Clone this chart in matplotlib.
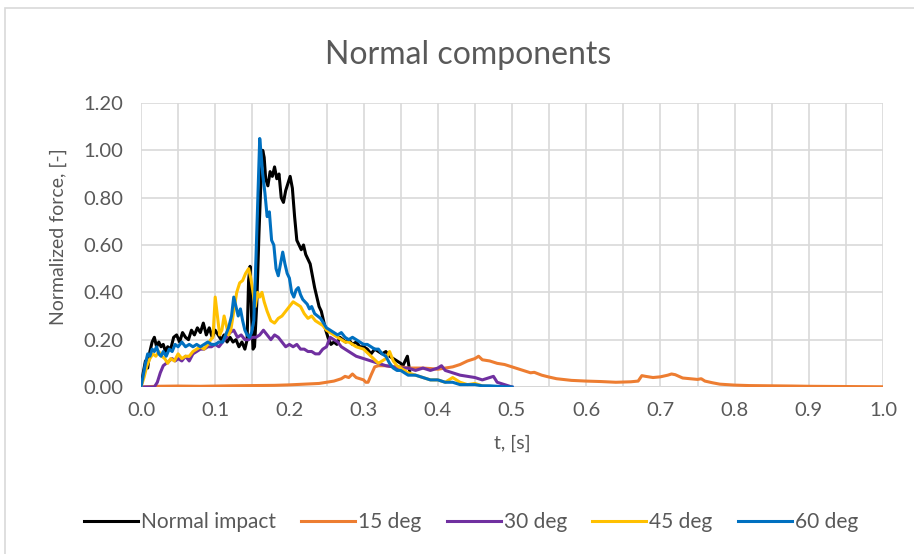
import matplotlib
matplotlib.use('Agg')
import matplotlib.pyplot as plt
from matplotlib.patches import Rectangle
import numpy as np

plt.rcParams['font.family'] = ['Lato', 'DejaVu Sans']

# ---- data ----
t_normal = [0.000, 0.003, 0.006, 0.009, 0.012, 0.015, 0.018, 0.021, 0.024, 0.027,
            0.030, 0.033, 0.036, 0.040, 0.044, 0.048, 0.052, 0.056, 0.060, 0.064,
            0.068, 0.072, 0.076, 0.080, 0.084, 0.088, 0.092, 0.096, 0.100, 0.104,
            0.108, 0.112, 0.116, 0.120, 0.124, 0.128, 0.132, 0.136, 0.140, 0.143,
            0.145, 0.147, 0.149, 0.151, 0.153, 0.156, 0.159, 0.162, 0.164, 0.166,
            0.168, 0.171, 0.174, 0.177, 0.180, 0.183, 0.186, 0.189, 0.192, 0.195,
            0.198, 0.201, 0.204, 0.207, 0.210, 0.213, 0.216, 0.219, 0.222, 0.225,
            0.228, 0.231, 0.234, 0.237, 0.240, 0.243, 0.246, 0.249, 0.252, 0.256,
            0.260, 0.264, 0.268, 0.272, 0.276, 0.280, 0.285, 0.290, 0.295, 0.300,
            0.305, 0.310, 0.315, 0.320, 0.325, 0.330, 0.335, 0.340, 0.345, 0.350,
            0.353, 0.356, 0.359, 0.362]
f_normal = [0.00, 0.06, 0.11, 0.08, 0.15, 0.19, 0.21, 0.17, 0.19, 0.17,
            0.18, 0.15, 0.17, 0.16, 0.21, 0.22, 0.19, 0.23, 0.21, 0.20,
            0.24, 0.22, 0.25, 0.23, 0.27, 0.22, 0.25, 0.21, 0.24, 0.22,
            0.20, 0.22, 0.19, 0.21, 0.19, 0.20, 0.17, 0.19, 0.16, 0.20,
            0.45, 0.51, 0.30, 0.16, 0.17, 0.35, 0.65, 0.90, 1.00, 0.97,
            0.88, 0.85, 0.91, 0.89, 0.93, 0.88, 0.90, 0.80, 0.78, 0.83,
            0.86, 0.89, 0.84, 0.72, 0.62, 0.60, 0.58, 0.60, 0.56, 0.54,
            0.52, 0.47, 0.42, 0.38, 0.34, 0.32, 0.28, 0.24, 0.21, 0.18,
            0.19, 0.18, 0.21, 0.20, 0.19, 0.20, 0.18, 0.19, 0.17, 0.17,
            0.16, 0.14, 0.16, 0.15, 0.14, 0.15, 0.13, 0.12, 0.11, 0.10,
            0.09, 0.11, 0.13, 0.07]

t_15 = [0.000, 0.020, 0.050, 0.080, 0.100, 0.120, 0.150, 0.180, 0.200, 0.220,
        0.240, 0.250, 0.260, 0.270, 0.275, 0.280, 0.285, 0.290, 0.295, 0.300,
        0.303, 0.306, 0.310, 0.315, 0.320, 0.330, 0.340, 0.350, 0.360, 0.370,
        0.380, 0.390, 0.400, 0.410, 0.420, 0.430, 0.440, 0.450, 0.455, 0.460,
        0.470, 0.480, 0.490, 0.500, 0.510, 0.520, 0.525, 0.530, 0.540, 0.550,
        0.560, 0.580, 0.600, 0.620, 0.640, 0.660, 0.670, 0.675, 0.680, 0.690,
        0.700, 0.710, 0.715, 0.720, 0.730, 0.740, 0.750, 0.755, 0.760, 0.770,
        0.780, 0.800, 0.820, 0.850, 0.880, 0.900, 0.950, 1.000]
f_15 = [0.000, 0.003, 0.004, 0.003, 0.004, 0.005, 0.006, 0.007, 0.009, 0.012,
        0.015, 0.020, 0.025, 0.035, 0.045, 0.040, 0.055, 0.040, 0.035, 0.030,
        0.020, 0.020, 0.050, 0.085, 0.090, 0.090, 0.085, 0.085, 0.080, 0.080,
        0.080, 0.078, 0.075, 0.080, 0.085, 0.095, 0.110, 0.120, 0.130, 0.115,
        0.110, 0.100, 0.095, 0.085, 0.075, 0.065, 0.060, 0.062, 0.050, 0.042,
        0.035, 0.028, 0.025, 0.023, 0.020, 0.022, 0.025, 0.048, 0.045, 0.040,
        0.043, 0.050, 0.055, 0.052, 0.038, 0.035, 0.032, 0.035, 0.025, 0.018,
        0.012, 0.008, 0.006, 0.005, 0.004, 0.003, 0.002, 0.001]

t_30 = [0.000, 0.010, 0.018, 0.022, 0.026, 0.030, 0.034, 0.038, 0.042, 0.046,
        0.050, 0.055, 0.060, 0.065, 0.070, 0.075, 0.080, 0.085, 0.090, 0.095,
        0.100, 0.105, 0.110, 0.115, 0.120, 0.125, 0.130, 0.135, 0.140, 0.145,
        0.150, 0.155, 0.160, 0.165, 0.170, 0.175, 0.180, 0.185, 0.190, 0.195,
        0.200, 0.205, 0.210, 0.215, 0.220, 0.225, 0.230, 0.235, 0.240, 0.245,
        0.250, 0.255, 0.260, 0.265, 0.270, 0.275, 0.280, 0.290, 0.300, 0.310,
        0.320, 0.330, 0.340, 0.350, 0.360, 0.370, 0.380, 0.390, 0.400, 0.405,
        0.410, 0.420, 0.430, 0.440, 0.450, 0.460, 0.470, 0.475, 0.480, 0.490,
        0.500]
f_30 = [0.00, 0.00, 0.00, 0.02, 0.06, 0.09, 0.10, 0.11, 0.12, 0.11,
        0.12, 0.11, 0.13, 0.11, 0.14, 0.15, 0.16, 0.16, 0.17, 0.17,
        0.18, 0.17, 0.19, 0.21, 0.23, 0.24, 0.21, 0.22, 0.20, 0.20,
        0.21, 0.21, 0.22, 0.24, 0.22, 0.20, 0.22, 0.21, 0.19, 0.17,
        0.18, 0.17, 0.18, 0.16, 0.16, 0.15, 0.15, 0.14, 0.14, 0.16,
        0.17, 0.21, 0.20, 0.19, 0.17, 0.16, 0.15, 0.13, 0.12, 0.11,
        0.10, 0.09, 0.085, 0.08, 0.08, 0.07, 0.08, 0.07, 0.08, 0.09,
        0.07, 0.06, 0.05, 0.045, 0.04, 0.03, 0.04, 0.045, 0.02, 0.01,
        0.00]

t_45 = [0.000, 0.004, 0.008, 0.012, 0.016, 0.020, 0.024, 0.028, 0.032, 0.036,
        0.040, 0.045, 0.050, 0.055, 0.060, 0.065, 0.070, 0.075, 0.080, 0.085,
        0.090, 0.094, 0.097, 0.100, 0.103, 0.106, 0.109, 0.112, 0.115, 0.118,
        0.121, 0.125, 0.129, 0.133, 0.137, 0.141, 0.145, 0.148, 0.151, 0.154,
        0.157, 0.160, 0.163, 0.166, 0.170, 0.175, 0.180, 0.185, 0.190, 0.195,
        0.200, 0.205, 0.210, 0.215, 0.220, 0.225, 0.230, 0.235, 0.240, 0.245,
        0.250, 0.255, 0.260, 0.265, 0.270, 0.275, 0.280, 0.290, 0.300, 0.310,
        0.320, 0.330, 0.335, 0.340, 0.345, 0.350, 0.360, 0.370, 0.380, 0.390,
        0.400, 0.410, 0.420, 0.430, 0.440, 0.450, 0.460, 0.470, 0.480]
f_45 = [0.00, 0.04, 0.09, 0.12, 0.14, 0.13, 0.15, 0.13, 0.12, 0.10,
        0.12, 0.11, 0.14, 0.12, 0.13, 0.13, 0.15, 0.16, 0.17, 0.16,
        0.18, 0.20, 0.21, 0.38, 0.30, 0.22, 0.24, 0.30, 0.26, 0.22,
        0.24, 0.32, 0.40, 0.44, 0.45, 0.48, 0.50, 0.46, 0.40, 0.34,
        0.40, 0.38, 0.40, 0.36, 0.32, 0.28, 0.27, 0.29, 0.30, 0.32,
        0.34, 0.36, 0.35, 0.34, 0.31, 0.29, 0.30, 0.28, 0.27, 0.26,
        0.24, 0.23, 0.22, 0.21, 0.20, 0.19, 0.19, 0.17, 0.16, 0.13,
        0.10, 0.12, 0.15, 0.11, 0.09, 0.08, 0.06, 0.05, 0.04, 0.03,
        0.03, 0.02, 0.04, 0.02, 0.01, 0.015, 0.005, 0.002, 0.000]

t_60 = [0.000, 0.003, 0.006, 0.009, 0.012, 0.015, 0.018, 0.021, 0.024, 0.027,
        0.030, 0.034, 0.038, 0.042, 0.046, 0.050, 0.055, 0.060, 0.065, 0.070,
        0.075, 0.080, 0.085, 0.090, 0.095, 0.100, 0.105, 0.110, 0.114, 0.118,
        0.122, 0.125, 0.128, 0.131, 0.134, 0.137, 0.140, 0.143, 0.146, 0.149,
        0.152, 0.155, 0.158, 0.160, 0.162, 0.164, 0.167, 0.170, 0.173, 0.176,
        0.179, 0.182, 0.185, 0.188, 0.191, 0.194, 0.197, 0.200, 0.203, 0.206,
        0.209, 0.212, 0.215, 0.218, 0.221, 0.224, 0.227, 0.230, 0.234, 0.238,
        0.242, 0.246, 0.250, 0.255, 0.260, 0.265, 0.270, 0.275, 0.280, 0.285,
        0.290, 0.295, 0.300, 0.305, 0.310, 0.315, 0.320, 0.325, 0.330, 0.335,
        0.340, 0.345, 0.350, 0.355, 0.360, 0.365, 0.370, 0.380, 0.390, 0.400,
        0.410, 0.420, 0.430, 0.440, 0.450, 0.460, 0.470, 0.480, 0.490, 0.500]
f_60 = [0.00, 0.05, 0.10, 0.14, 0.13, 0.16, 0.15, 0.17, 0.14, 0.13,
        0.15, 0.13, 0.16, 0.15, 0.18, 0.17, 0.19, 0.17, 0.18, 0.17,
        0.18, 0.17, 0.18, 0.19, 0.18, 0.18, 0.19, 0.19, 0.22, 0.25,
        0.30, 0.38, 0.34, 0.30, 0.33, 0.28, 0.24, 0.22, 0.21, 0.23,
        0.28, 0.55, 0.85, 1.05, 0.98, 0.90, 0.82, 0.72, 0.74, 0.62,
        0.60, 0.50, 0.47, 0.52, 0.57, 0.52, 0.48, 0.46, 0.40, 0.38,
        0.41, 0.42, 0.39, 0.37, 0.36, 0.35, 0.33, 0.34, 0.31, 0.30,
        0.29, 0.27, 0.25, 0.24, 0.23, 0.22, 0.23, 0.21, 0.20, 0.21,
        0.20, 0.19, 0.18, 0.18, 0.17, 0.16, 0.16, 0.14, 0.13, 0.10,
        0.08, 0.07, 0.07, 0.06, 0.05, 0.05, 0.05, 0.04, 0.03, 0.03,
        0.02, 0.02, 0.01, 0.01, 0.01, 0.005, 0.005, 0.003, 0.001, 0.000]

series_names = ['Normal impact', '15 deg', '30 deg', '45 deg', '60 deg']
series_colors = ['#000000', '#ED7D31', '#7030A0', '#FFC000', '#0070C0']
series_t = [t_normal, t_15, t_30, t_45, t_60]
series_f = [f_normal, f_15, f_30, f_45, f_60]

x_ticks = np.round(np.arange(0, 1.01, 0.1), 1)
y_ticks = np.round(np.arange(0, 1.21, 0.2), 2)

# ---- figure ----
W, H = 914, 554
fig = plt.figure(figsize=(W / 100, H / 100), dpi=100)
fig.patches.append(Rectangle((5 / W, -0.01), 1.0, 1 - 8 / H + 0.01, transform=fig.transFigure,
                             fill=False, edgecolor='#d9d9d9', linewidth=1.2))

ax = fig.add_axes([141 / W, 1 - 387 / H, 742 / W, 284 / H])
text_col = '#595959'
grid_col = '#d9d9d9'

for t, f, name, col in zip(series_t, series_f, series_names, series_colors):
    ax.plot(t, f, color=col, lw=2.2, label=name, solid_joinstyle='round')

ax.set_xlim(0, 1.0)
ax.set_ylim(0, 1.2)
ax.set_xticks(x_ticks)
ax.set_xticklabels(['%.1f' % v for v in x_ticks])
ax.set_xticks(np.arange(0.05, 1.0, 0.1), minor=True)
ax.set_yticks(y_ticks)
ax.set_yticklabels(['%.2f' % v for v in y_ticks])
ax.grid(True, which='both', axis='x', color=grid_col, lw=1.2)
ax.grid(True, which='major', axis='y', color=grid_col, lw=1.2)
ax.set_axisbelow(True)
for s in ax.spines.values():
    s.set_visible(False)
ax.tick_params(which='both', length=0, colors=text_col, labelsize=14.5)
ax.tick_params(axis='x', pad=11)
ax.tick_params(axis='y', pad=13)
ax.axhline(0, color='#bfbfbf', lw=1.2, zorder=0.5)

fig.text(468 / W, 1 - 55 / H, 'Normal components', ha='center', va='center',
         fontsize=23, color=text_col)
fig.text(512 / W, 1 - 443 / H, 't, [s]', ha='center', va='center',
         fontsize=14, color=text_col)
fig.text(58 / W, 1 - 237 / H, 'Normalized force, [-]', ha='center', va='center',
         rotation=90, fontsize=14, color=text_col)

fig.legend(loc='center', bbox_to_anchor=(471 / W, 1 - 522 / H), ncol=5, frameon=False,
           fontsize=15, handlelength=2.6, handletextpad=0.15, columnspacing=1.2,
           labelcolor=text_col)

fig.savefig('out.png', dpi=100)
